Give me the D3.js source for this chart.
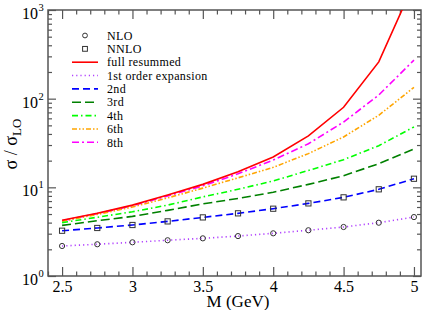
<!DOCTYPE html>
<html><head><meta charset="utf-8">
<script src="https://cdn.jsdelivr.net/npm/d3@7/dist/d3.min.js"></script>
<style>
body{margin:0;background:#fff;}
svg{display:block;}
svg text{font-family:"Liberation Serif","Times New Roman","DejaVu Serif",serif !important;}
</style></head>
<body><svg id="c" width="429" height="310" font-family="Liberation Serif, Times New Roman, serif"></svg>
<script>
const masses = [2.5, 2.75, 3.0, 3.25, 3.5, 3.75, 4.0, 4.25, 4.5, 4.75, 5.0];
const nlo   = [2.18, 2.28, 2.40, 2.53, 2.66, 2.82, 3.03, 3.28, 3.57, 3.99, 4.62];
const nnlo  = [3.24, 3.48, 3.76, 4.13, 4.58, 5.09, 5.74, 6.59, 7.71, 9.5, 12.5];
const full  = [4.25, 5.1, 6.3, 8.2, 10.8, 15.0, 22, 38, 80, 260, 2000];
const ord1  = nlo;
const ord2  = nnlo;
const ord3  = [3.72, 4.2, 4.7, 5.5, 6.5, 7.5, 8.8, 10.8, 13.5, 18.5, 27];
const ord4  = [4.0, 4.6, 5.3, 6.3, 7.8, 9.5, 11.8, 15.5, 20.5, 29.5, 48];
const ord6  = [4.15, 4.95, 6.0, 7.6, 9.8, 12.8, 16.8, 24, 37, 65, 134];
const ord8  = [4.2, 5.05, 6.2, 8.0, 10.4, 14.2, 20.3, 31, 54.5, 110, 272];
const xTicks = [2.5, 3, 3.5, 4, 4.5, 5];
const yTickExps = [0, 1, 2, 3];
const xLabel = "M (GeV)";

const FONT = "Liberation Serif, Times New Roman, DejaVu Serif, serif";
const svg = d3.select("#c");
const L = 48, R = 421, T = 10, B = 276;
const x = d3.scaleLinear().domain([2.4, 5.05]).range([L, R]);
const y = d3.scaleLog().domain([1, 1000]).range([B, T]);
const axisColor = "#555";

svg.append("clipPath").attr("id","clip").append("rect")
  .attr("x", L).attr("y", T).attr("width", R-L).attr("height", B-T);

const minorX = d3.range(24, 51).map(v => v/10).filter(v => Math.abs(v*2 - Math.round(v*2)) > 1e-6);
const minorY = [];
for (let e = 0; e < 3; e++) for (let k = 2; k <= 9; k++) minorY.push(k * Math.pow(10, e));

function styleAxis(g){
  g.select(".domain").remove();
  g.attr("font-family", FONT);
  g.selectAll("line").attr("stroke", axisColor).attr("stroke-width", 1.2);
}
svg.append("g").attr("transform",`translate(0,${B})`)
  .call(d3.axisBottom(x).tickValues(xTicks).tickSize(-9).tickPadding(5).tickFormat(d3.format("~g")))
  .call(styleAxis)
  .call(g => g.selectAll("text").attr("font-size", 16).attr("fill","#000").attr("font-family", FONT));
svg.append("g").attr("transform",`translate(0,${B})`)
  .call(d3.axisBottom(x).tickValues(minorX).tickSize(-4.5).tickFormat(""))
  .call(styleAxis);
svg.append("g").attr("transform",`translate(0,${T})`)
  .call(d3.axisTop(x).tickValues(xTicks).tickSize(-9).tickFormat(""))
  .call(styleAxis);
svg.append("g").attr("transform",`translate(0,${T})`)
  .call(d3.axisTop(x).tickValues(minorX).tickSize(-4.5).tickFormat(""))
  .call(styleAxis);
const yMajor = yTickExps.map(e => Math.pow(10, e));
svg.append("g").attr("transform",`translate(${L},0)`)
  .call(d3.axisLeft(y).tickValues(yMajor).tickSize(-8).tickFormat(""))
  .call(styleAxis);
svg.append("g").attr("transform",`translate(${L},0)`)
  .call(d3.axisLeft(y).tickValues(minorY).tickSize(-4).tickFormat(""))
  .call(styleAxis);
svg.append("g").attr("transform",`translate(${R},0)`)
  .call(d3.axisRight(y).tickValues(yMajor).tickSize(-8).tickFormat(""))
  .call(styleAxis);
svg.append("g").attr("transform",`translate(${R},0)`)
  .call(d3.axisRight(y).tickValues(minorY).tickSize(-4).tickFormat(""))
  .call(styleAxis);

yTickExps.forEach(e => {
  svg.append("text").attr("x", 38).attr("y", y(Math.pow(10,e)) + 9)
    .attr("text-anchor","end").attr("font-size", 16).attr("font-family", FONT).text("10");
  svg.append("text").attr("x", 38.5).attr("y", y(Math.pow(10,e)) + 1)
    .attr("font-size", 10.5).attr("font-family", FONT).text(String(e));
});

svg.append("rect").attr("x", L).attr("y", T).attr("width", R-L).attr("height", B-T)
  .attr("fill","none").attr("stroke", axisColor).attr("stroke-width", 1.5);

const series = [
  {name:"full resummed", vals: full, color:"#ff0000", dash:null},
  {name:"1st order expansion", vals: ord1, color:"#b040ff", dash:"1.2,3"},
  {name:"2nd", vals: ord2, color:"#0000ff", dash:"7,4"},
  {name:"3rd", vals: ord3, color:"#008000", dash:"9,4"},
  {name:"4th", vals: ord4, color:"#00ff00", dash:"6,3,1.5,3"},
  {name:"6th", vals: ord6, color:"#ffa500", dash:"5,2,1.5,2,1.5,2"},
  {name:"8th", vals: ord8, color:"#ff00ff", dash:"7,3,2,3"}
];
const line = d3.line().x((d,i) => x(masses[i])).y(d => y(d));
const plot = svg.append("g").attr("clip-path","url(#clip)");
series.slice().reverse().forEach(s => {
  plot.append("path").datum(s.vals).attr("d", line)
    .attr("fill","none").attr("stroke", s.color).attr("stroke-width", 1.6)
    .attr("stroke-dasharray", s.dash);
});
plot.selectAll("circle.nlo").data(nlo).join("circle")
  .attr("cx",(d,i)=>x(masses[i])).attr("cy",d=>y(d)).attr("r",2.6)
  .attr("fill","none").attr("stroke","#333").attr("stroke-width",1);
plot.selectAll("rect.nnlo").data(nnlo).join("rect")
  .attr("x",(d,i)=>x(masses[i])-2.6).attr("y",d=>y(d)-2.6).attr("width",5.2).attr("height",5.2)
  .attr("fill","none").attr("stroke","#333").attr("stroke-width",1);

const ly0 = 35.5, ldy = 13.35, lx0 = 72, lx1 = 98, ltx = 107;
const lg = svg.append("g").attr("font-size", 12).attr("letter-spacing", 0.35).attr("font-family", FONT);
lg.append("circle").attr("cx",85).attr("cy",ly0).attr("r",2.4).attr("fill","none").attr("stroke","#333");
lg.append("text").attr("x",ltx).attr("y",ly0+4.2).text("NLO");
lg.append("rect").attr("x",82.6).attr("y",ly0+ldy-2.4).attr("width",4.8).attr("height",4.8).attr("fill","none").attr("stroke","#333");
lg.append("text").attr("x",ltx).attr("y",ly0+ldy+4.2).text("NNLO");
series.forEach((s,i) => {
  const yy = ly0 + ldy*(i+2);
  lg.append("line").attr("x1",lx0).attr("x2",lx1).attr("y1",yy).attr("y2",yy)
    .attr("stroke",s.color).attr("stroke-width",1.6).attr("stroke-dasharray",s.dash);
  lg.append("text").attr("x",ltx).attr("y",yy+4.2).text(s.name);
});

svg.append("text").attr("x", 238).attr("y", 307).attr("text-anchor","middle")
  .attr("font-size", 17).attr("font-family", FONT).text(xLabel);
const yl = svg.append("text").attr("transform","translate(17,144) rotate(-90)")
  .attr("text-anchor","middle").attr("font-size", 18).attr("font-family", FONT);
yl.append("tspan").text("σ / σ");
yl.append("tspan").attr("font-size", 13).attr("dy", 4).text("LO");
</script></body></html>
